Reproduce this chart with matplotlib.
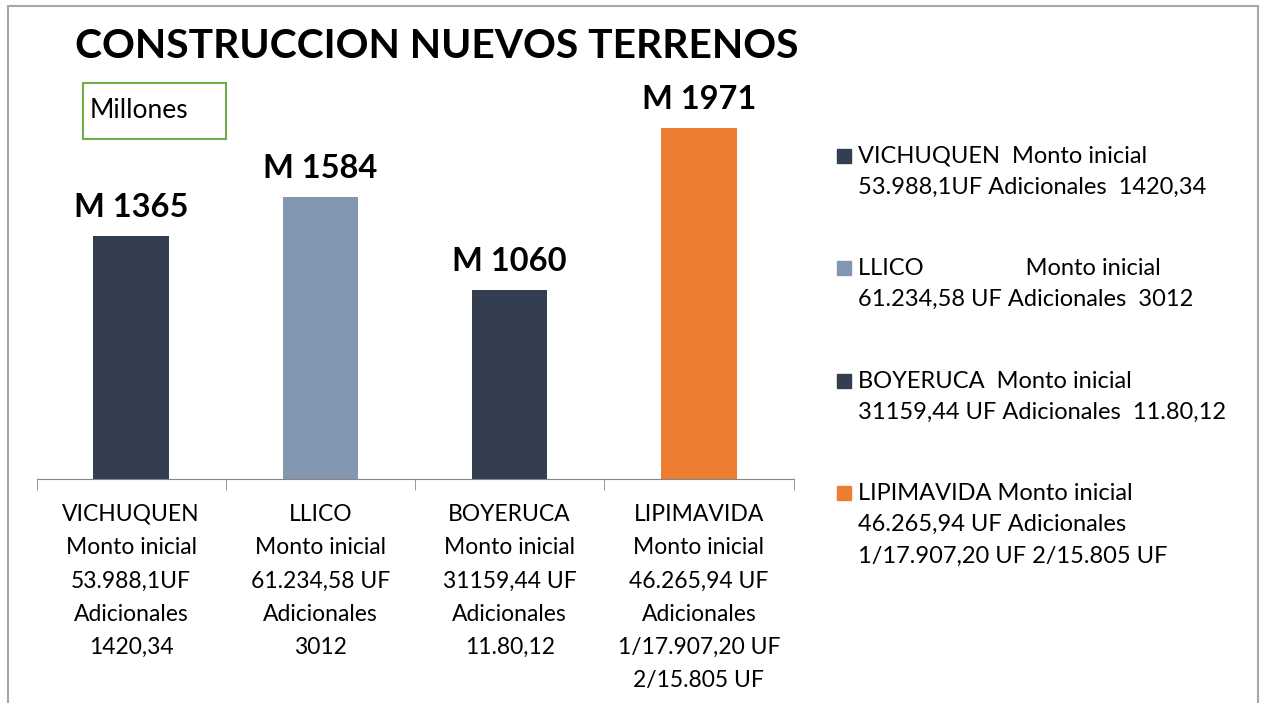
import matplotlib
matplotlib.use("Agg")
import matplotlib.pyplot as plt
from matplotlib import font_manager
from matplotlib.patches import Rectangle

# ---------------------------------------------------------------------------
# data
# ---------------------------------------------------------------------------
title = "CONSTRUCCION NUEVOS TERRENOS"
unit_box = "Millones"
places = ["VICHUQUEN", "LLICO", "BOYERUCA", "LIPIMAVIDA"]
amounts = [1365, 1584, 1060, 1971]          # millones
value_labels = ["M 1365", "M 1584", "M 1060", "M 1971"]
colors = ["#333f50", "#8497b0", "#333f50", "#ed7d31"]
tick_labels = [
    "VICHUQUEN\nMonto inicial\n53.988,1UF\nAdicionales\n1420,34",
    "LLICO\nMonto inicial\n61.234,58 UF\nAdicionales\n3012",
    "BOYERUCA\nMonto inicial\n31159,44 UF\nAdicionales\n11.80,12",
    "LIPIMAVIDA\nMonto inicial\n46.265,94 UF\nAdicionales\n1/17.907,20 UF\n2/15.805 UF",
]
legend_labels = [
    "VICHUQUEN  Monto inicial\n53.988,1UF Adicionales  1420,34",
    "LLICO                 Monto inicial\n61.234,58 UF Adicionales  3012",
    "BOYERUCA  Monto inicial\n31159,44 UF Adicionales  11.80,12",
    "LIPIMAVIDA Monto inicial\n46.265,94 UF Adicionales\n1/17.907,20 UF 2/15.805 UF",
]

installed = {f.name for f in font_manager.fontManager.ttflist}
main_font = "Lato" if "Lato" in installed else "DejaVu Sans"
plt.rcParams["font.family"] = [main_font, "DejaVu Sans"]

W, H = 1261, 703
fig = plt.figure(figsize=(W / 100, H / 100), dpi=100)

# outer chart border (bottom edge is cut off in the reference)
fig.patches.append(Rectangle((8 / W, -0.05), 1250 / W, 1.05 - 6 / H,
                             transform=fig.transFigure, fill=False,
                             edgecolor="#a6a6a6", lw=1.5))

ax = fig.add_axes([36.5 / W, 1 - 479 / H, 757 / W, 399 / H])
x = list(range(len(places)))
bars = ax.bar(x, amounts, width=0.4, color=colors)
ax.set_xlim(-0.5, len(places) - 0.5)
ax.set_ylim(0, 2242)

for b, lab in zip(bars, value_labels):
    ax.annotate(lab, (b.get_x() + b.get_width() / 2, b.get_height()),
                xytext=(0, 10), textcoords="offset points",
                ha="center", va="bottom", fontsize=23.5, fontweight="bold")

for s in ["top", "right", "left"]:
    ax.spines[s].set_visible(False)
ax.spines["bottom"].set_color("#868686")
ax.set_yticks([])
ax.set_xticks(x, tick_labels, fontsize=16.5, linespacing=1.72)
ax.tick_params(axis="x", which="major", length=0, pad=18)
ax.set_xticks([i - 0.5 for i in range(len(places) + 1)], minor=True)
ax.tick_params(axis="x", which="minor", length=8, color="#868686")
for t in ax.get_xticklabels():
    t.set_va("top")

fig.text(75 / W, 1 - 46 / H, title, fontsize=29.3, fontweight="bold",
         va="center", ha="left")

# "Millones" box
fig.patches.append(Rectangle((83 / W, 1 - 139 / H), 143 / W, 56 / H,
                             transform=fig.transFigure, fill=False,
                             edgecolor="#70ad47", lw=1.5))
fig.text(90 / W, 1 - 111 / H, unit_box, fontsize=19, va="center", ha="left")

# legend drawn by hand so the square sits on the first text line
legend_y = [156, 268, 381, 493]
for y, lab, c in zip(legend_y, legend_labels, colors):
    fig.patches.append(Rectangle((837 / W, 1 - (y + 7) / H), 14 / W, 14 / H,
                                 transform=fig.transFigure, color=c))
    fig.text(858 / W, 1 - (y - 10) / H, lab, fontsize=17, va="top",
             ha="left", linespacing=1.6)

fig.savefig("out.png", dpi=100)
